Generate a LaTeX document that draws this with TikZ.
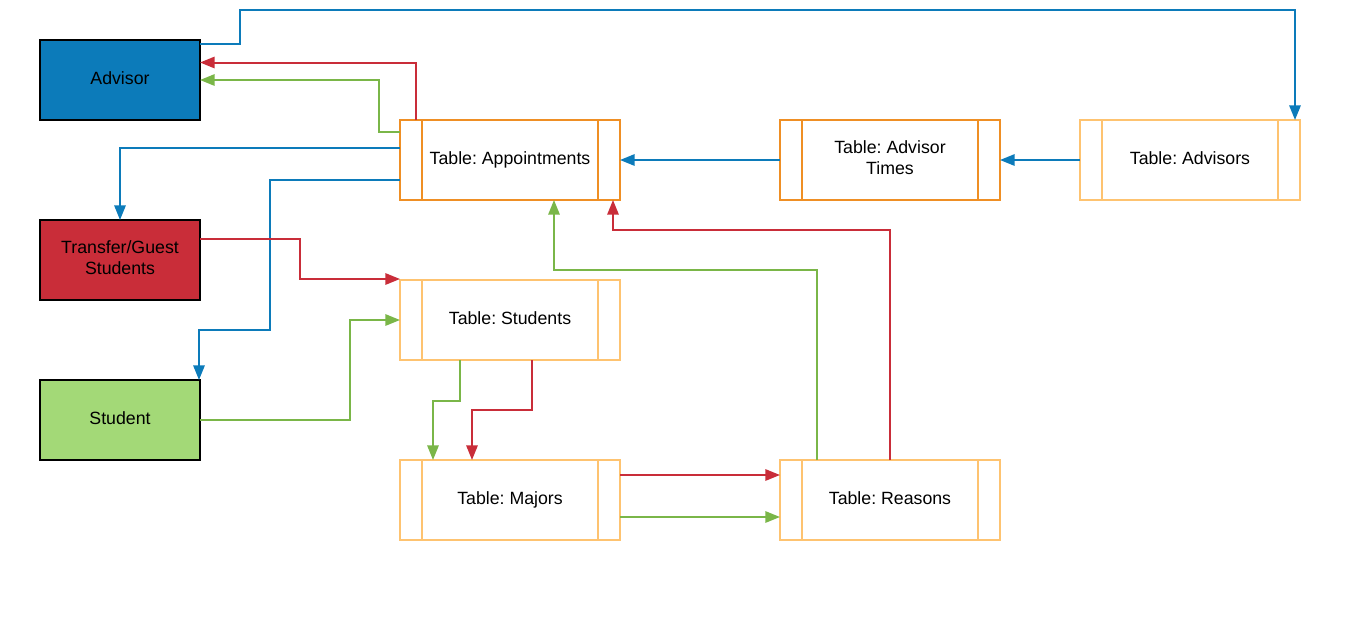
\documentclass[tikz,border=0pt]{standalone}
\usepackage{fontspec}
\setmainfont{Liberation Sans}
\usetikzlibrary{arrows.meta,calc}
\definecolor{dorange}{RGB}{239,143,36}
\definecolor{lorange}{RGB}{254,195,112}
\definecolor{cblue}{RGB}{12,123,186}
\definecolor{cred}{RGB}{201,45,57}
\definecolor{cgreen}{RGB}{122,182,72}
\definecolor{gfill}{RGB}{163,217,119}
\tikzset{
  lbl/.style={outer sep=0pt, inner sep=0pt, align=center, text depth=3.5pt, font=\fontsize{13.3}{15.75}\selectfont\frenchspacing},
  actor/.style={lbl, draw=black, line width=1.5pt, minimum width=120pt, minimum height=60pt},
  tbl/.style={lbl, draw=#1, line width=1.5pt, minimum width=165pt, minimum height=60pt,
    path picture={\draw[#1, line width=1.5pt] ([xshift=16.5pt]path picture bounding box.north west) -- ([xshift=16.5pt]path picture bounding box.south west);
                  \draw[#1, line width=1.5pt] ([xshift=-16.5pt]path picture bounding box.north east) -- ([xshift=-16.5pt]path picture bounding box.south east);}},
  conn/.style={line width=1.5pt, -{Triangle[length=11pt,width=8.5pt]}},
  bconn/.style={conn, draw=cblue},
  rconn/.style={conn, draw=cred},
  gconn/.style={conn, draw=cgreen},
}
\begin{document}
\begin{tikzpicture}[x=0.75pt,y=-0.75pt]
\useasboundingbox[fill=white] (0,0) rectangle (1360,640);
% actors
\node[actor, fill=cblue] (adv) at (120,80) {Advisor};
\node[actor, fill=cred] (trans) at (120,260) {Transfer/Guest\\Students};
\node[actor, fill=gfill] (stu) at (120,420) {Student};
% tables
\node[tbl=dorange] (appt) at (510,160) {Table: Appointments};
\node[tbl=dorange] (times) at (890,160) {Table: Advisor\\Times};
\node[tbl=lorange] (advs) at (1190,160) {Table: Advisors};
\node[tbl=lorange] (tstu) at (510,320) {Table: Students};
\node[tbl=lorange] (maj) at (510,500) {Table: Majors};
\node[tbl=lorange] (rea) at (890,500) {Table: Reasons};
% blue connectors
\draw[bconn] ($(adv.north east)+(0,3.5)$) -| (240,10) -| ($(advs.north east)+(-5,0)$);
\draw[bconn] ($(appt.north west)+(0,28)$) -| (trans.north);
\draw[bconn] ($(appt.north west)+(0,60)$) -| (270,330) -| ($(stu.north east)+(-1,0)$);
\draw[bconn] (times.west) -- (appt.east);
\draw[bconn] (advs.west) -- (times.east);
% red connectors
\draw[rconn] ($(appt.north west)+(16,0)$) |- ($(adv.north east)+(0,22.5)$);
\draw[rconn] ($(trans.north east)+(0,19)$) -| (300,279) -- ($(tstu.north west)+(0,-1)$);
\draw[rconn] ($(tstu.south west)+(132,0)$) |- ($(maj.north west)+(72,-50)$) -- ($(maj.north west)+(72,0)$);
\draw[rconn] ($(maj.north east)+(0,15)$) -- ($(rea.north west)+(0,15)$);
\draw[rconn] (rea.north) |- ($(appt.south east)+(-7,30)$) -- ($(appt.south east)+(-7,0)$);
% green connectors
\draw[gconn] ($(appt.north west)+(0,12)$) -| (379,80) -- ($(adv.north east)+(0,40)$);
\draw[gconn] (stu.east) -| (350,320) -- (tstu.west);
\draw[gconn] ($(tstu.south west)+(60,0)$) |- ($(maj.north west)+(33,-59)$) -- ($(maj.north west)+(33,0)$);
\draw[gconn] ($(maj.north east)+(0,57)$) -- ($(rea.north west)+(0,57)$);
\draw[gconn] ($(rea.north west)+(37,0)$) |- ($(appt.south west)+(154,70)$) -- ($(appt.south west)+(154,0)$);
\end{tikzpicture}
\end{document}
